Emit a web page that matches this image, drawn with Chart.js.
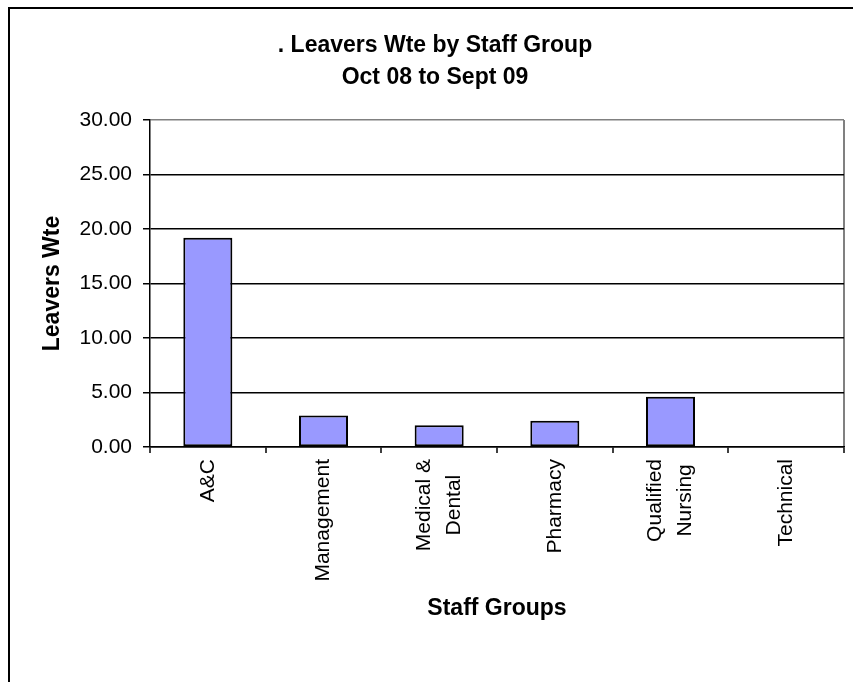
<!DOCTYPE html>
<html>
<head>
<meta charset="utf-8">
<script src="https://cdn.jsdelivr.net/npm/chart.js@4"></script>
<style>
  html, body { margin: 0; padding: 0; background: #fff; overflow: hidden; }
  #frame {
    position: absolute; left: 8px; top: 7px; width: 900px; height: 720px;
    border-left: 2px solid #000; border-top: 2px solid #000;
  }
  #chartLeavers { position: absolute; left: 0; top: 0; }
</style>
</head>
<body>
<div id="frame"></div>
<canvas id="chartLeavers" width="853" height="682"></canvas>
<script>
const staffGroups = [['A&C'], ['Management'], ['Medical &', 'Dental'], ['Pharmacy'], ['Qualified', 'Nursing'], ['Technical']];
const leaversWte = [19.2, 2.9, 2.0, 2.4, 4.6, 0];
const yTicks = [0, 5, 10, 15, 20, 25, 30];

const FONT = '"Liberation Sans", Arial, sans-serif';

// rotated category labels, lines centred on the tick, block ending just under the axis
const groupLabels = {
  id: 'groupLabels',
  afterDraw(chart) {
    const scale = chart.scales.x;
    const ctx = chart.ctx;
    ctx.save();
    ctx.font = '21px ' + FONT;
    ctx.fillStyle = '#000';
    ctx.textAlign = 'center';
    ctx.textBaseline = 'middle';
    staffGroups.forEach((lines, i) => {
      const x = scale.getPixelForTick(i);
      const w = Math.max(...lines.map(l => ctx.measureText(l).width));
      const yMid = scale.top + 12 + w / 2;
      lines.forEach((line, j) => {
        ctx.save();
        ctx.translate(x + (j - (lines.length - 1) / 2) * 30, yMid);
        ctx.rotate(-Math.PI / 2);
        ctx.fillText(line, 0, 0);
        ctx.restore();
      });
    });
    ctx.restore();
  }
};

new Chart(document.getElementById('chartLeavers'), {
  type: 'bar',
  data: {
    labels: staffGroups,
    datasets: [{
      data: leaversWte,
      backgroundColor: '#9999ff',
      borderColor: '#000',
      borderWidth: 2,
      borderSkipped: false,
      barPercentage: 0.424,
      categoryPercentage: 1
    }]
  },
  options: {
    responsive: false,
    animation: false,
    layout: { padding: { left: 26, right: 9, top: 0, bottom: 0 } },
    plugins: {
      legend: { display: false },
      tooltip: { enabled: false },
      title: {
        display: true,
        text: ['. Leavers Wte by Staff Group', 'Oct 08 to Sept 09'],
        color: '#000',
        font: { family: FONT, size: 23, weight: 'bold', lineHeight: '32px' },
        padding: { top: 30, bottom: 26 }
      }
    },
    scales: {
      x: {
        afterFit(scale) { scale.height = 235; },
        ticks: { display: false },
        grid: {
          offset: true,
          drawOnChartArea: true,
          color: ctx => ctx.type === 'tick' ? 'rgba(0,0,0,0)' : '#808080',
          lineWidth: 2,
          tickLength: 6,
          tickColor: '#000',
          tickWidth: 1.5
        },
        border: { display: true, color: '#000', width: 1.5 },
        title: {
          display: true,
          text: 'Staff Groups',
          color: '#000',
          font: { family: FONT, size: 23, weight: 'bold' },
          padding: { top: 0, bottom: 60 }
        }
      },
      y: {
        min: 0,
        max: 30,
        afterFit(scale) { scale.width = 124; },
        afterBuildTicks(scale) { scale.ticks = yTicks.map(v => ({ value: v })); },
        ticks: {
          color: '#000',
          font: { family: FONT, size: 21 },
          padding: 11,
          callback: v => v.toFixed(2)
        },
        grid: {
          color: ctx => ctx.tick && ctx.tick.value === 30 ? '#808080' : '#000',
          lineWidth: 1.5,
          tickLength: 7,
          tickColor: '#000',
          tickWidth: 1.5
        },
        border: { display: true, color: '#000', width: 1.5 },
        title: {
          display: true,
          text: 'Leavers Wte',
          color: '#000',
          font: { family: FONT, size: 23, weight: 'bold' },
          padding: { top: 13, bottom: 0 }
        }
      }
    }
  },
  plugins: [groupLabels]
});
</script>
</body>
</html>
